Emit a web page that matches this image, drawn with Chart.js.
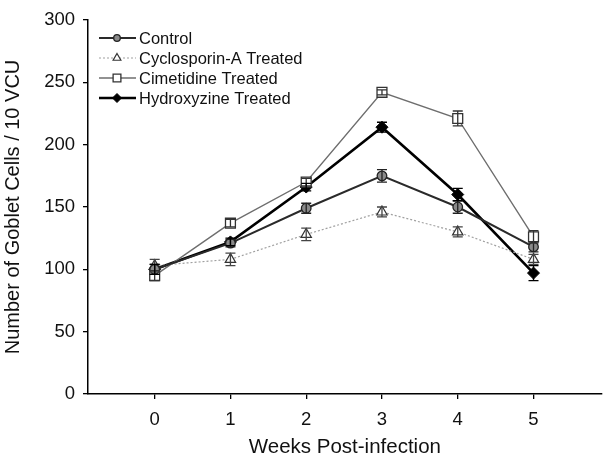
<!DOCTYPE html>
<html>
<head>
<meta charset="utf-8">
<script src="https://cdn.jsdelivr.net/npm/chart.js@4"></script>
<style>
  html,body{margin:0;padding:0;background:#fff;}
  canvas{display:block;}
</style>
</head>
<body>
<canvas id="goblet" width="610" height="463"></canvas>
<script>
let weeks = [0, 1, 2, 3, 4, 5];
let seriesNames = ["Control", "Cyclosporin-A Treated", "Cimetidine Treated", "Hydroxyzine Treated"];

let control     = [100, 121, 149, 175, 150, 118];
let cyclosporin = [103, 108, 128, 146, 130, 108];
let cimetidine  = [95, 137, 170, 242, 221, 126];
let hydroxyzine = [100, 122, 166, 214, 160, 97];

let controlErr     = [4, 3, 4, 5, 5, 4];
let cyclosporinErr = [5, 5, 5, 4, 4, 4];
let cimetidineErr  = [4, 3, 3, 2, 6, 5];
let hydroxyzineErr = [4, 3, 3, 4, 5, 6];

let yTicks = [0, 50, 100, 150, 200, 250, 300];

const FONT = "'Liberation Sans', Arial, sans-serif";

function pts(vals){
    return weeks.map((w,i)=>({x:w, y:vals[i]}));
}

/* error bars, drawn through the y scale */
const errorBars = {
    id:"errorBars",
    afterDatasetsDraw(chart){
        let ctx = chart.ctx, ys = chart.scales.y, xs = chart.scales.x;
        chart.data.datasets.forEach((ds,di)=>{
            ctx.save();
            ctx.strokeStyle = ds.errColor;
            ctx.lineWidth = 1.3;
            ds.data.forEach((p,i)=>{
                let e = ds.err[i];
                let x = xs.getPixelForValue(p.x);
                let top = ys.getPixelForValue(p.y+e);
                let bot = ys.getPixelForValue(p.y-e);
                ctx.beginPath();
                ctx.moveTo(x,top); ctx.lineTo(x,bot);
                ctx.moveTo(x-5,top); ctx.lineTo(x+5,top);
                ctx.moveTo(x-5,bot); ctx.lineTo(x+5,bot);
                ctx.stroke();
            });
            ctx.restore();
        });
    }
};

/* legend with line + marker samples */
const lineLegend = {
    id:"lineLegend",
    afterDraw(chart){
        let ctx = chart.ctx;
        chart.data.datasets.forEach((ds,i)=>{
            let y = 38 + i*20;
            ctx.save();
            ctx.strokeStyle = ds.borderColor;
            ctx.lineWidth = ds.borderWidth;
            ctx.setLineDash(ds.borderDash || []);
            ctx.beginPath();
            ctx.moveTo(99,y); ctx.lineTo(136,y);
            ctx.stroke();
            ctx.setLineDash([]);
            ctx.fillStyle = ds.pointBackgroundColor;
            ctx.strokeStyle = ds.pointBorderColor;
            ctx.lineWidth = ds.pointBorderWidth;
            Chart.helpers.drawPoint(ctx,{pointStyle:ds.pointStyle, radius:ds.pointRadius-1.5, borderWidth:ds.pointBorderWidth, rotation:0},117,y);
            ctx.fillStyle = "#111";
            ctx.font = "16.5px " + FONT;
            ctx.textBaseline = "middle";
            ctx.fillText(ds.label,139,y+1);
            ctx.restore();
        });
    }
};

new Chart(document.getElementById("goblet"),{
    type:"line",
    data:{
        datasets:[
            {label:seriesNames[0], data:pts(control), err:controlErr, errColor:"#222",
             borderColor:"#2a2a2a", borderWidth:2, pointStyle:"circle", pointRadius:4.8,
             pointBackgroundColor:"#8a8a8a", pointBorderColor:"#222", pointBorderWidth:1.3},
            {label:seriesNames[1], data:pts(cyclosporin), err:cyclosporinErr, errColor:"#444",
             borderColor:"#a0a0a0", borderWidth:1.2, borderDash:[2,2], pointStyle:"triangle", pointRadius:6,
             pointBackgroundColor:"#fff", pointBorderColor:"#333", pointBorderWidth:1.2},
            {label:seriesNames[2], data:pts(cimetidine), err:cimetidineErr, errColor:"#333",
             borderColor:"#6e6e6e", borderWidth:1.4, pointStyle:"rect", pointRadius:7,
             pointBackgroundColor:"#fff", pointBorderColor:"#333", pointBorderWidth:1.3},
            {label:seriesNames[3], data:pts(hydroxyzine), err:hydroxyzineErr, errColor:"#000",
             borderColor:"#000", borderWidth:2.6, pointStyle:"rectRot", pointRadius:6,
             pointBackgroundColor:"#000", pointBorderColor:"#000", pointBorderWidth:1}
        ]
    },
    options:{
        responsive:false,
        animation:false,
        layout:{padding:{top:20,right:0,left:0,bottom:0}},
        plugins:{legend:{display:false},tooltip:{enabled:false}},
        elements:{line:{tension:0}},
        scales:{
            x:{
                type:"linear", min:-0.88, max:5.9,
                afterBuildTicks:s=>{s.ticks = weeks.map(v=>({value:v}));},
                afterFit:s=>{s.height = 69;},
                border:{color:"#000",width:1.5},
                grid:{drawOnChartArea:false,drawTicks:true,tickLength:5,color:"#000",lineWidth:1.3},
                ticks:{color:"#111",font:{family:FONT,size:18.5},padding:10,maxRotation:0},
                title:{display:true,text:"Weeks Post-infection",color:"#111",font:{family:FONT,size:20.5},padding:{top:0,bottom:3}}
            },
            y:{
                min:0, max:300,
                afterBuildTicks:s=>{s.ticks = yTicks.map(v=>({value:v}));},
                afterFit:s=>{s.width = 88;},
                border:{color:"#000",width:1.5},
                grid:{drawOnChartArea:false,drawTicks:true,tickLength:5,color:"#000",lineWidth:1.3},
                ticks:{color:"#111",font:{family:FONT,size:18.5},padding:8},
                title:{display:true,text:"Number of Goblet Cells / 10 VCU",color:"#111",font:{family:FONT,size:20},padding:{top:1,bottom:3}}
            }
        }
    },
    plugins:[errorBars,lineLegend]
});
</script>
</body>
</html>
